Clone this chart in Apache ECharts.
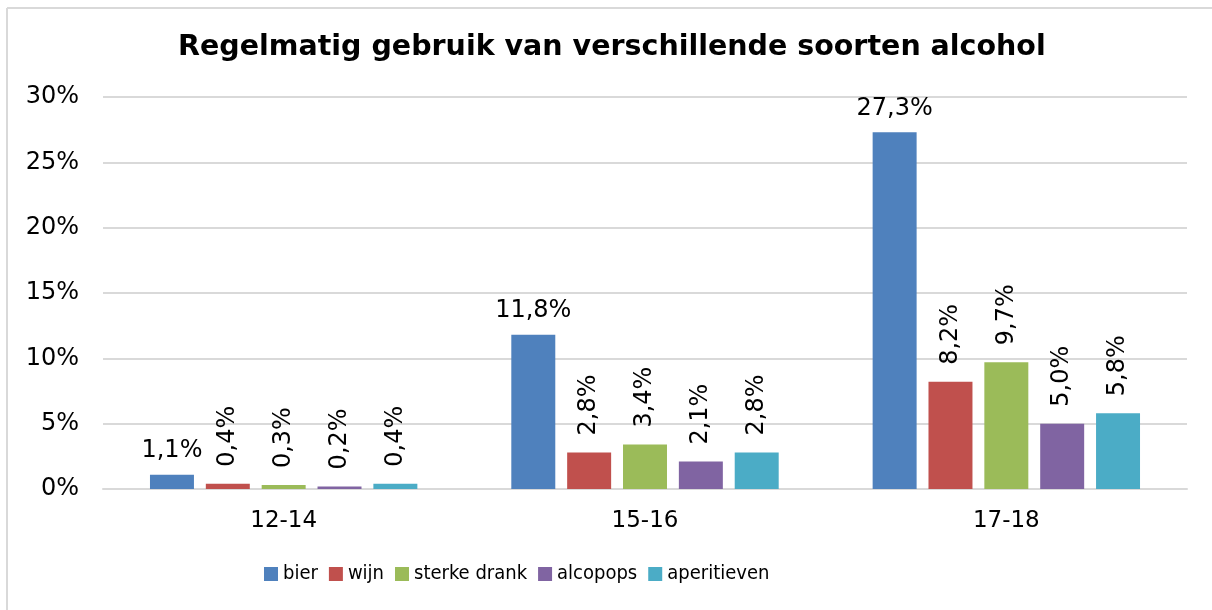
<!DOCTYPE html>
<html>
<head>
<meta charset="utf-8">
<script src="https://cdn.jsdelivr.net/npm/echarts@6/dist/echarts.min.js"></script>
<style>
  html, body { margin: 0; padding: 0; background: #fff; }
  #chart { width: 1212px; height: 610px; }
</style>
</head>
<body>
<div id="chart"></div>
<script>
// data
const categories = ['12-14', '15-16', '17-18'];
const seriesNames = ['bier', 'wijn', 'sterke drank', 'alcopops', 'aperitieven'];
const bier = [1.1, 11.8, 27.3];
const wijn = [0.4, 2.8, 8.2];
const sterkeDrank = [0.3, 3.4, 9.7];
const alcopops = [0.2, 2.1, 5.0];
const aperitieven = [0.4, 2.8, 5.8];
const yTicks = [0, 5, 10, 15, 20, 25, 30];

const colors = ['#4f81bd', '#c0504d', '#9bbb59', '#8064a2', '#4bacc6'];
const values = [bier, wijn, sterkeDrank, alcopops, aperitieven];
const font = 'DejaVu Sans, Verdana, sans-serif';

const chart = echarts.init(document.getElementById('chart'), null, { renderer: 'canvas' });

function fmt(v) {
    return v.toFixed(1).replace('.', ',') + '%';
}

const series = seriesNames.map(function (name, i) {
    const horizontal = i === 0;
    return {
        name: name,
        type: 'bar',
        data: values[i],
        barGap: '27%',
        barCategoryGap: '26%',
        itemStyle: { color: colors[i] },
        label: horizontal ? {
            show: true,
            position: 'top',
            distance: 12,
            color: '#000',
            fontFamily: font,
            fontSize: 24,
            formatter: function (p) { return fmt(p.value); }
        } : {
            show: true,
            position: 'top',
            rotate: 90,
            align: 'left',
            verticalAlign: 'middle',
            distance: 17,
            color: '#000',
            fontFamily: font,
            fontSize: 24,
            formatter: function (p) { return fmt(p.value); }
        }
    };
});

const option = {
    animation: false,
    title: {
        text: 'Regelmatig gebruik van verschillende soorten alcohol',
        left: 173,
        top: 28,
        textStyle: {
            fontFamily: font,
            fontWeight: 'bold',
            fontSize: 28.5,
            color: '#000'
        }
    },
    // chart frame: only the top and left edges show in the picture
    graphic: [{
        type: 'line',
        shape: { x1: 7, y1: 8, x2: 1212, y2: 8 },
        style: { stroke: '#d9d9d9', lineWidth: 2 },
        silent: true
    }, {
        type: 'line',
        shape: { x1: 7, y1: 8, x2: 7, y2: 610 },
        style: { stroke: '#d9d9d9', lineWidth: 2 },
        silent: true
    }],
    legend: {
        bottom: 21,
        left: 259,
        itemWidth: 14,
        itemHeight: 14,
        itemGap: 11,
        icon: 'rect',
        data: seriesNames,
        textStyle: {
            fontFamily: 'DejaVu Sans Condensed, DejaVu Sans, sans-serif',
            fontSize: 20,
            color: '#000'
        }
    },
    grid: {
        left: 103,
        right: 25,
        top: 97,
        bottom: 121
    },
    xAxis: {
        type: 'category',
        data: categories,
        axisLine: { show: true, lineStyle: { color: '#d9d9d9', width: 2 } },
        axisTick: { show: false },
        axisLabel: {
            fontFamily: font,
            fontSize: 23,
            color: '#000',
            margin: 21
        }
    },
    yAxis: {
        type: 'value',
        min: yTicks[0],
        max: yTicks[yTicks.length - 1],
        interval: yTicks[1] - yTicks[0],
        axisLine: { show: false },
        axisTick: { show: false },
        splitLine: { lineStyle: { color: '#d9d9d9', width: 2 } },
        axisLabel: {
            fontFamily: font,
            fontSize: 24,
            color: '#000',
            margin: 24,
            formatter: '{value}%'
        }
    },
    series: series
};

chart.setOption(option);
</script>
</body>
</html>
